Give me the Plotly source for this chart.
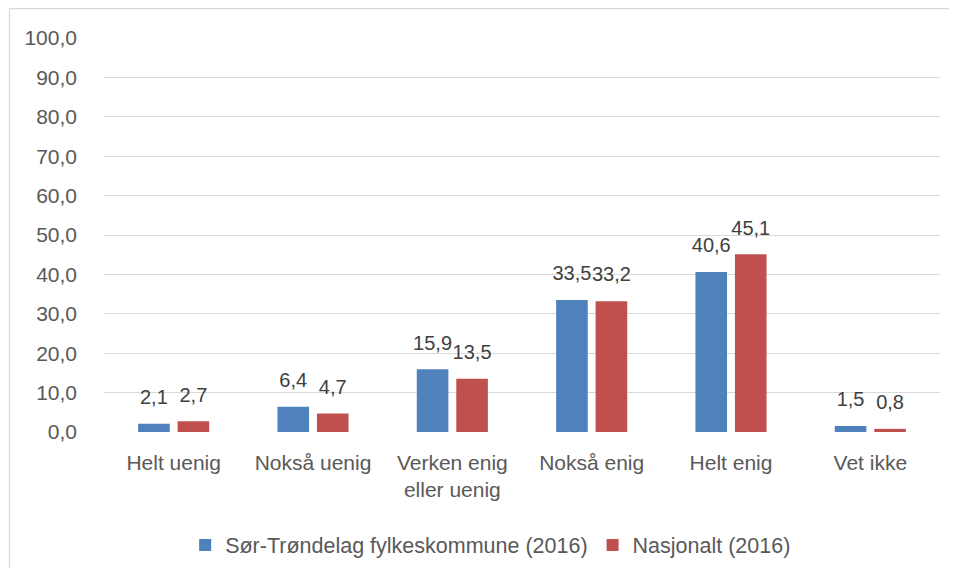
import plotly.graph_objects as go

categories = ["Helt uenig", "Nokså uenig", "Verken enig<br>eller uenig", "Nokså enig", "Helt enig", "Vet ikke"]
sor_trondelag = [2.1, 6.4, 15.9, 33.5, 40.6, 1.5]
nasjonalt = [2.7, 4.7, 13.5, 33.2, 45.1, 0.8]
series_names = ["Sør-Trøndelag fylkeskommune (2016)", "Nasjonalt (2016)"]
colors = ["#4f81bd", "#c0504d"]

def fmt(v):
    return f"{v:.1f}".replace(".", ",")

# page body has an 8px margin; figure sized to fit inside the viewport
W, H = 941, 560
L, R, T, B = 96, 9, 30, 136
pw, ph = W - L - R, H - T - B
FONT = "Liberation Sans"
FS = 21

fig = go.Figure()
for name, vals, col in zip(series_names, [sor_trondelag, nasjonalt], colors):
    fig.add_trace(go.Bar(
        x=categories, y=vals, name=name, marker=dict(color=col, line=dict(width=0)),
        offsetgroup=name, hoverinfo="skip",
    ))
for name, vals in zip(series_names, [sor_trondelag, nasjonalt]):
    fig.add_trace(go.Scatter(
        x=categories, y=vals, mode="markers+text", offsetgroup=name,
        marker=dict(size=22, color="rgba(0,0,0,0)"),
        text=[fmt(v) for v in vals], textposition="top center",
        textfont=dict(size=20, color="#404040", family=FONT),
        cliponaxis=False, showlegend=False, hoverinfo="skip",
    ))

fig.update_layout(
    width=W, height=H, margin=dict(l=L, r=R, t=T, b=B, autoexpand=False),
    paper_bgcolor="white", plot_bgcolor="white",
    separators=", ",
    barmode="group", bargap=0.433, bargroupgap=0.2,
    scattermode="group", scattergap=0.433,
    font=dict(family=FONT, size=FS, color="#595959"),
    yaxis=dict(range=[0, 100], dtick=10, tickformat=".1f", gridcolor="#d9d9d9", gridwidth=1.3,
               zeroline=False, showline=False, ticks="", ticklabelstandoff=26,
               tickfont=dict(size=FS, color="#595959")),
    xaxis=dict(showline=False, ticks="", ticklabelstandoff=16,
               tickfont=dict(size=FS, color="#595959")),
    legend=dict(orientation="h", x=0.4625, xanchor="center", y=-(537 - (H - B)) / ph, yanchor="middle",
                font=dict(size=21.5, color="#595959"), itemwidth=30, traceorder="normal"),
    showlegend=True,
)
fig.add_shape(type="line", xref="paper", yref="paper",
              x0=(1.5 - L) / pw, x1=(W + 20 - L) / pw, y0=1 + (T - 0.5) / ph, y1=1 + (T - 0.5) / ph,
              line=dict(color="#d9d9d9", width=1.3), layer="below")
fig.add_shape(type="line", xref="paper", yref="paper",
              x0=(1.5 - L) / pw, x1=(1.5 - L) / pw, y0=1 + (T - 0.5) / ph, y1=-(B + 20) / ph,
              line=dict(color="#d9d9d9", width=1.3), layer="below")
fig.write_html("out.html")
